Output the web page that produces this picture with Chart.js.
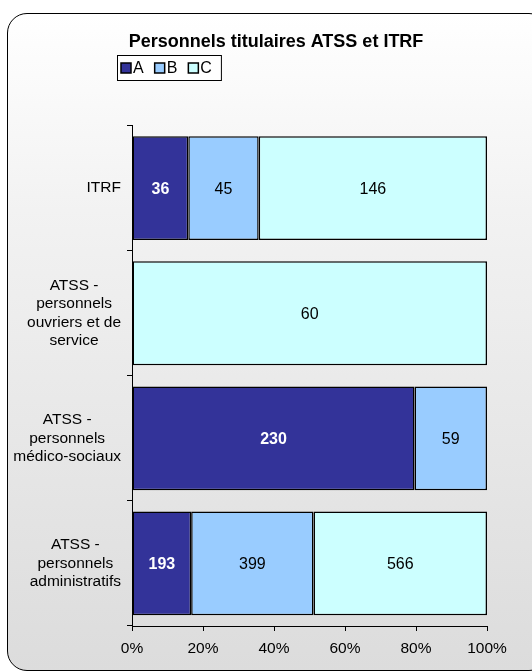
<!DOCTYPE html>
<html>
<head>
<meta charset="utf-8">
<script src="https://cdn.jsdelivr.net/npm/chart.js@4.4.0/dist/chart.umd.min.js"></script>
<style>
  html, body { margin: 0; padding: 0; }
  body {
    width: 532px; height: 671px; overflow: hidden; position: relative;
    background: #fff;
  }
  .frame {
    position: absolute; left: 7px; top: 13px; width: 540px; height: 656px;
    border: 1.5px solid #000; border-radius: 20px;
    background: linear-gradient(to bottom, #ffffff 0%, #f2f2f2 30%, #dcdcdc 100%);
  }
  #wrap { position: absolute; left: 0; top: 0; width: 532px; height: 671px; }
</style>
</head>
<body>
<div class="frame"></div>
<div id="wrap"><canvas id="myChart" width="532" height="671"></canvas></div>
<script>
/* data */
var categories = [
    ['ITRF'],
    ['ATSS -', 'personnels', 'ouvriers et de', 'service'],
    ['ATSS -', 'personnels', 'médico-sociaux'],
    ['ATSS -', 'personnels', 'administratifs']
]
var seriesNames = ['A', 'B', 'C']
var valuesA = [36, 0, 230, 193]
var valuesB = [45, 0, 59, 399]
var valuesC = [146, 60, 0, 566]
var xTicks = [0, 20, 40, 60, 80, 100]

var colors = ['#333399', '#99CCFF', '#CCFFFF']
var labelColors = ['#ffffff', '#000000', '#000000']
var labelBold = [true, false, false]
var fontFam = "'Liberation Sans', Arial, sans-serif"

var rawSeries = [valuesA, valuesB, valuesC]
var totals = categories.map(function (_, i) {
    return valuesA[i] + valuesB[i] + valuesC[i]
})

const datasets = rawSeries.map(function (vals, s) {
    return {
        label: seriesNames[s],
        raw: vals,
        data: vals.map(function (v, i) { return v / totals[i] * 100 }),
        backgroundColor: colors[s],
        borderColor: '#000000',
        borderWidth: 1.5,
        borderSkipped: false,
        categoryPercentage: 0.83,
        barPercentage: 1
    }
})

// value labels in the middle of each segment
const barLabels = {
    id: 'barLabels',
    afterDatasetsDraw(chart) {
        const ctx = chart.ctx
        ctx.save()
        ctx.textAlign = 'center'
        ctx.textBaseline = 'middle'
        chart.data.datasets.forEach(function (ds, s) {
            const meta = chart.getDatasetMeta(s)
            meta.data.forEach(function (bar, i) {
                if (!ds.raw[i]) return
                ctx.fillStyle = labelColors[s]
                ctx.font = (labelBold[s] ? 'bold ' : '') + '16px ' + fontFam
                ctx.fillText(String(ds.raw[i]), (bar.x + bar.base) / 2, bar.y + 1)
            })
        })
        ctx.restore()
    }
}

// category labels: each block right-aligned on the axis, lines centred in the block
const catLabels = {
    id: 'catLabels',
    afterDraw(chart) {
        const ctx = chart.ctx
        const yScale = chart.scales.y
        const right = chart.chartArea.left - 11
        const lh = 18.3
        ctx.save()
        ctx.font = '15.5px ' + fontFam
        ctx.fillStyle = '#000000'
        ctx.textAlign = 'center'
        ctx.textBaseline = 'middle'
        chart.data.labels.forEach(function (lines, i) {
            const widest = Math.max.apply(null, lines.map(function (t) { return ctx.measureText(t).width }))
            const cx = right - widest / 2
            const cy = yScale.getPixelForValue(i)
            const y0 = cy - (lines.length - 1) * lh / 2
            lines.forEach(function (t, k) {
                ctx.fillText(t, cx, y0 + k * lh)
            })
        })
        ctx.restore()
    }
}

// boxed legend under the title
const boxLegend = {
    id: 'boxLegend',
    afterDraw(chart) {
        const ctx = chart.ctx
        const x0 = 117, y0 = 55, h = 25
        ctx.save()
        ctx.font = '16px ' + fontFam
        ctx.textBaseline = 'middle'
        let x = x0 + 4
        const items = []
        chart.data.datasets.forEach(function (ds) {
            items.push({ x: x, label: ds.label, color: ds.backgroundColor })
            x += 13 + ctx.measureText(ds.label).width + 10
        })
        const w = x - x0 - 2
        ctx.fillStyle = '#ffffff'
        ctx.fillRect(x0, y0, w, h)
        ctx.strokeStyle = '#000000'
        ctx.lineWidth = 1
        ctx.strokeRect(x0 + 0.5, y0 + 0.5, w, h)
        items.forEach(function (it) {
            ctx.fillStyle = it.color
            ctx.fillRect(it.x, y0 + 8, 10, 10)
            ctx.lineWidth = 1.5
            ctx.strokeRect(it.x, y0 + 8, 10, 10)
            ctx.fillStyle = '#000000'
            ctx.textAlign = 'left'
            ctx.fillText(it.label, it.x + 12, y0 + h / 2 + 1)
        })
        ctx.restore()
    }
}

const ctx = document.getElementById('myChart')
const config = {
    type: 'bar',
    data: {
        labels: categories,
        datasets: datasets
    },
    options: {
        responsive: false,
        animation: false,
        indexAxis: 'y',
        layout: {
            padding: { left: 65, right: 45, top: 31, bottom: 0 }
        },
        scales: {
            x: {
                stacked: true,
                min: 0,
                max: 100,
                afterBuildTicks: function (axis) {
                    axis.ticks = xTicks.map(function (v) { return { value: v } })
                },
                afterFit: function (axis) { axis.height = 45 },
                grid: { drawOnChartArea: false, drawTicks: true, tickLength: 5, color: '#000000' },
                border: { color: '#000000', width: 1 },
                ticks: {
                    padding: 8,
                    color: '#000000',
                    font: { family: fontFam, size: 15.5 },
                    callback: function (v) { return v + '%' }
                }
            },
            y: {
                stacked: true,
                afterFit: function (axis) { axis.width = 67 },
                grid: { drawOnChartArea: false, drawTicks: true, tickLength: 5, color: '#000000', offset: true },
                border: { color: '#000000', width: 1 },
                ticks: { display: false }
            }
        },
        plugins: {
            legend: { display: false },
            tooltip: { enabled: false },
            title: {
                display: true,
                text: 'Personnels titulaires ATSS et ITRF',
                color: '#000000',
                font: { family: fontFam, size: 18, weight: 'bold', lineHeight: 1.2 },
                padding: { top: 0, bottom: 73 }
            }
        }
    },
    plugins: [barLabels, catLabels, boxLegend]
}
const chart = new Chart(ctx, config)
</script>
</body>
</html>
